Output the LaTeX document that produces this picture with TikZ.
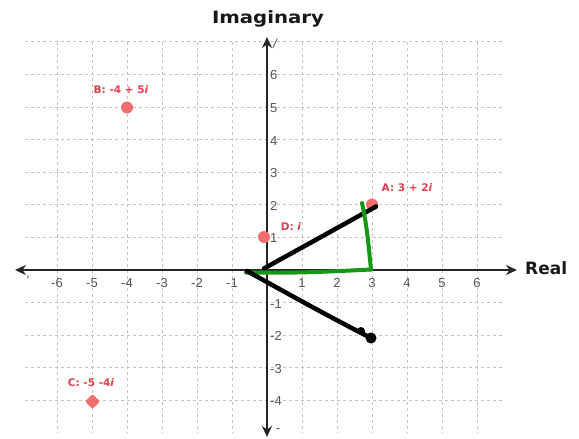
\documentclass[tikz,border=0pt]{standalone}
\usepackage{fontspec}
\setmainfont{DejaVu Sans}
\newfontfamily\tickfont{Liberation Sans}
\usetikzlibrary{arrows.meta}
\definecolor{ptred}{RGB}{240,110,110}
\definecolor{lblred}{RGB}{224,64,74}
\definecolor{gridgray}{RGB}{195,195,195}
\definecolor{handgreen}{RGB}{22,152,22}
\definecolor{tickgray}{RGB}{85,85,85}
\begin{document}
\begin{tikzpicture}[x=1pt,y=-1pt,
  gridline/.style={gridgray, line width=0.8pt, dash pattern=on 3pt off 3pt},
  axisline/.style={line width=2.4pt, black!85},
  ptmark/.style={circle, fill=ptred, draw=none, inner sep=0pt, minimum size=12pt},
  lbl/.style={text=lblred, font=\bfseries\fontsize{10.5}{12}\selectfont, inner sep=0pt},
  ticklbl/.style={text=tickgray, font=\tickfont\fontsize{13}{15}\selectfont, inner sep=0pt},
  axtitle/.style={text=black!90, font=\bfseries\fontsize{17}{20}\selectfont, inner sep=0pt},
  blackstroke/.style={line width=4.5pt, black, line cap=round, line join=round},
  greenstroke/.style={line width=4pt, handgreen, line cap=round, line join=round}
]
\useasboundingbox (0,0) rectangle (579,439);
\fill[white] (0,0) rectangle (579,439);

% grid
\foreach \k in {-4,-3,-2,-1,1,2,3,4,5,6,7}
  \draw[gridline] (25,{270-32.6*\k}) -- (505,{270-32.6*\k});
\foreach \k in {-6,-5,-4,-3,-2,-1,1,2,3,4,5,6}
  \draw[gridline] ({267+35*\k},42) -- ({267+35*\k},433);

% axes
\coordinate (xl) at (15,270);
\coordinate (xr) at (517,270);
\coordinate (yt) at (267,37);
\coordinate (yb) at (267,437);
\draw[axisline, {Stealth[length=11pt,width=10pt]}-{Stealth[length=11pt,width=10pt]}] (xl) -- (xr);
\draw[axisline, {Stealth[length=11pt,width=10pt]}-{Stealth[length=11pt,width=10pt]}] (yb) -- (yt);

\node[axtitle] (ttl) at (268,19) {\scalebox{1.16}[1]{Imaginary}};
\node[axtitle, anchor=west] (rl) at (525,268) {Real};

% tick labels
\foreach \k in {-6,-5,-4,-3,-2,-1,1,2,3,4,5,6}
  \node[ticklbl] (tx\k) at ({267+35*\k},283) {\k};
\foreach \k in {-4,-3,-2,-1,1,2,3,4,5,6}
  \node[ticklbl, anchor=west] (ty\k) at (270,{271-32.6*\k}) {\k};
\node[ticklbl] (rem1) at (28,278) {,};
\node[ticklbl] (rem2) at (275,44) {\itshape /};
\node[ticklbl] (rem3) at (278,431) {-};

% points
\node[ptmark] (B) at (127,107.5) {};
\node[ptmark] (D) at (264,237) {};
\node[ptmark] (A) at (372,204.5) {};
\node[fill=ptred, rectangle, rounded corners=1.5pt, rotate=45, inner sep=0pt, minimum size=10.5pt] (C) at (92.5,401.5) {};

\node[lbl] (Bl) at (121,90) {B: -4 + 5\textit{i}};
\node[lbl] (Al) at (407,188) {A: 3 + 2\textit{i}};
\node[lbl] (Dl) at (291,227) {D: \textit{i}};
\node[lbl] (Cl) at (91,383) {C: -5 -4\textit{i}};

% hand-drawn strokes
\coordinate (k1) at (264,268.5);
\coordinate (k2) at (376,206.5);
\coordinate (k3) at (247,271);
\coordinate (k4) at (369,337);
\draw[blackstroke] (k1) -- (k2);

\coordinate (g1) at (246,272.5);
\coordinate (g2) at (371,269.5);
\coordinate (g3) at (362,203);
\draw[greenstroke] (g1) .. controls (300,273.5) and (340,271) .. (g2);
\draw[greenstroke] (g3) .. controls (367,225) and (369,250) .. (g2);

\draw[blackstroke] (k3) .. controls (290,295) and (330,317) .. (k4);
\fill[black] (k4) ++(2,1) circle (5.5);
\fill[black] (361,331) circle (4);
\end{tikzpicture}
\end{document}
